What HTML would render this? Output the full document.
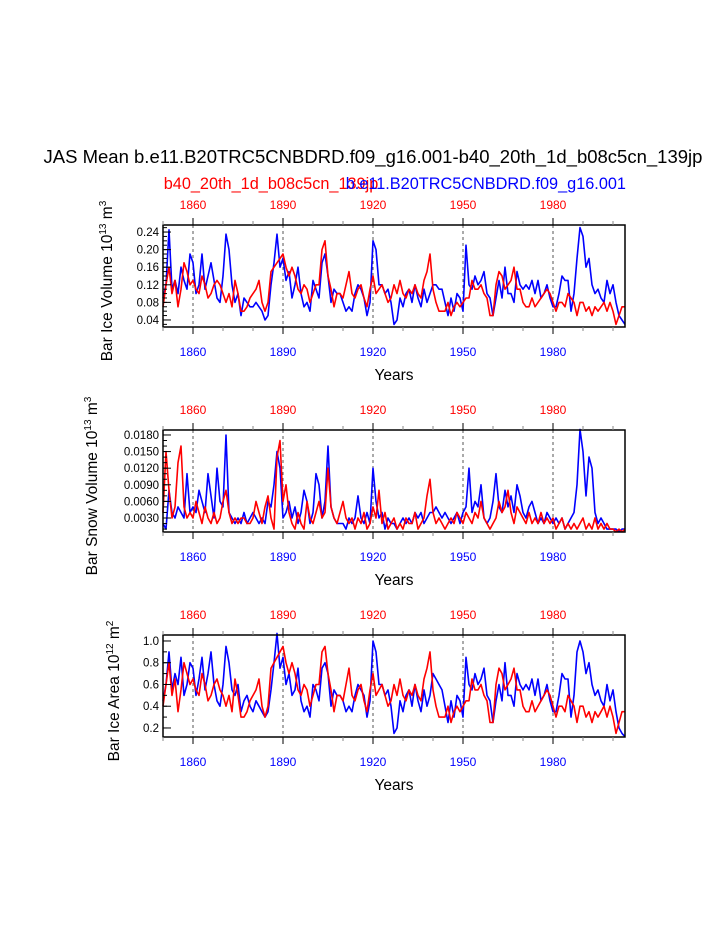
<!DOCTYPE html>
<html><head><meta charset="utf-8"><style>
html,body{margin:0;padding:0;background:#fff;}
svg{display:block;font-family:"Liberation Sans",sans-serif;}
</style></head><body>
<svg id="c" width="723" height="935">
<text x="373" y="163" text-anchor="middle" font-size="18.5">JAS Mean b.e11.B20TRC5CNBDRD.f09_g16.001-b40_20th_1d_b08c5cn_139jp</text>
<text x="271" y="189" text-anchor="middle" font-size="16.3" fill="#f00">b40_20th_1d_b08c5cn_139jp</text>
<text x="626" y="189" text-anchor="end" font-size="16.3" fill="#00f">b.e11.B20TRC5CNBDRD.f09_g16.001</text>
</svg>
<script>
const years=[];for(let y=1850;y<=2004;y++)years.push(y);
const xTicks=[1860,1890,1920,1950,1980];
const ice_blue=[.09,.12,.245,.11,.13,.10,.16,.13,.11,.19,.17,.10,.12,.19,.11,.14,.17,.13,.09,.08,.14,.235,.20,.12,.08,.10,.05,.09,.08,.07,.07,.08,.07,.06,.04,.05,.12,.17,.235,.16,.18,.13,.15,.09,.12,.16,.10,.07,.08,.06,.13,.11,.09,.17,.19,.14,.08,.11,.10,.10,.08,.06,.07,.06,.10,.12,.11,.09,.05,.08,.22,.20,.12,.12,.10,.11,.08,.03,.04,.09,.07,.10,.11,.08,.12,.09,.07,.11,.08,.10,.12,.12,.11,.11,.08,.05,.09,.06,.10,.09,.06,.21,.12,.11,.14,.12,.13,.15,.10,.09,.05,.09,.13,.09,.16,.10,.10,.08,.15,.12,.11,.12,.11,.13,.10,.13,.09,.10,.12,.09,.07,.07,.10,.14,.13,.13,.06,.10,.18,.25,.23,.16,.18,.12,.10,.11,.09,.08,.13,.10,.12,.08,.05,.04,.03];
const ice_red=[.07,.12,.16,.10,.13,.07,.11,.17,.15,.12,.13,.11,.10,.14,.12,.09,.10,.12,.13,.12,.10,.08,.10,.07,.13,.10,.06,.06,.07,.09,.10,.11,.13,.08,.06,.08,.15,.16,.17,.18,.19,.16,.14,.16,.14,.11,.10,.12,.11,.08,.10,.12,.12,.20,.22,.14,.11,.07,.10,.10,.09,.12,.15,.10,.09,.11,.12,.09,.07,.11,.14,.10,.11,.12,.10,.08,.09,.12,.10,.13,.10,.09,.11,.10,.12,.10,.09,.13,.15,.19,.11,.08,.06,.06,.06,.08,.05,.07,.08,.07,.08,.09,.09,.13,.11,.11,.12,.10,.09,.05,.05,.12,.15,.14,.11,.12,.13,.16,.11,.11,.08,.07,.07,.09,.07,.08,.09,.10,.11,.10,.08,.06,.08,.08,.07,.10,.09,.08,.05,.08,.08,.06,.07,.05,.07,.06,.07,.08,.06,.08,.06,.03,.05,.07,.07];
const snow_blue=[.002,.001,.008,.004,.003,.005,.004,.003,.011,.004,.005,.004,.008,.006,.004,.011,.007,.003,.012,.006,.005,.018,.004,.003,.002,.003,.002,.004,.002,.003,.004,.003,.002,.003,.002,.006,.005,.009,.015,.012,.003,.004,.006,.003,.005,.002,.004,.008,.006,.002,.004,.011,.009,.003,.006,.016,.005,.003,.002,.002,.002,.001,.003,.002,.003,.007,.003,.002,.004,.002,.012,.006,.003,.004,.001,.003,.002,.002,.001,.002,.003,.002,.003,.002,.004,.003,.004,.002,.003,.004,.004,.005,.004,.003,.004,.003,.002,.003,.004,.002,.004,.005,.012,.004,.006,.005,.009,.003,.002,.003,.006,.011,.005,.004,.008,.005,.007,.004,.009,.007,.004,.003,.005,.006,.004,.002,.003,.002,.004,.003,.002,.003,.002,.003,.001,.002,.003,.004,.009,.019,.015,.007,.014,.012,.004,.002,.003,.002,.001,.001,.001,.001,.0005,.001,.001];
const snow_red=[.004,.015,.008,.003,.005,.013,.016,.005,.003,.004,.003,.006,.004,.002,.005,.003,.002,.004,.002,.003,.006,.008,.004,.002,.003,.002,.003,.003,.002,.002,.003,.006,.004,.002,.005,.007,.003,.001,.014,.017,.006,.009,.004,.002,.001,.004,.002,.001,.006,.003,.002,.004,.006,.003,.004,.012,.005,.003,.002,.004,.006,.003,.002,.003,.001,.003,.002,.004,.001,.002,.005,.003,.008,.002,.004,.001,.002,.003,.001,.002,.001,.003,.002,.002,.004,.001,.002,.003,.007,.010,.004,.002,.003,.002,.001,.002,.003,.002,.004,.003,.002,.004,.003,.002,.004,.003,.006,.003,.002,.001,.002,.003,.006,.004,.005,.008,.004,.002,.005,.004,.003,.002,.004,.002,.003,.002,.004,.002,.003,.002,.003,.001,.002,.003,.001,.002,.001,.002,.001,.002,.003,.001,.002,.001,.003,.001,.002,.001,.002,.001,.001,.0005,.001,.0005,.001];
const area_blue=[.45,.6,.9,.55,.7,.6,.85,.5,.6,.8,.75,.5,.65,.85,.55,.7,.9,.6,.45,.4,.6,.95,.8,.55,.5,.6,.35,.45,.5,.4,.35,.45,.4,.35,.3,.35,.55,.8,1.07,.75,.85,.6,.7,.5,.55,.75,.45,.35,.4,.3,.6,.55,.45,.75,.8,.7,.4,.55,.5,.5,.45,.35,.4,.35,.5,.6,.55,.5,.3,.45,1.0,.9,.6,.6,.5,.55,.4,.15,.2,.45,.35,.5,.55,.4,.6,.45,.35,.55,.4,.5,.7,.65,.6,.55,.4,.25,.45,.3,.5,.45,.3,.85,.6,.55,.7,.6,.65,.75,.5,.45,.25,.45,.6,.45,.8,.5,.5,.4,.7,.6,.55,.6,.55,.65,.5,.65,.45,.5,.6,.45,.35,.35,.5,.7,.65,.65,.3,.5,.9,1.0,.9,.7,.8,.6,.5,.55,.45,.4,.6,.45,.55,.35,.2,.15,.12];
const area_red=[.4,.6,.8,.5,.65,.35,.55,.8,.7,.6,.65,.55,.5,.7,.6,.45,.5,.6,.65,.55,.5,.4,.5,.35,.65,.5,.3,.3,.35,.45,.5,.55,.65,.4,.3,.4,.75,.8,.85,.9,.95,.8,.7,.8,.7,.55,.5,.6,.55,.4,.5,.6,.6,.9,.95,.7,.55,.35,.5,.5,.45,.6,.75,.5,.45,.55,.6,.45,.35,.55,.7,.5,.55,.6,.5,.4,.45,.6,.5,.65,.5,.45,.55,.5,.6,.5,.45,.65,.75,.9,.55,.4,.3,.3,.3,.4,.25,.35,.4,.35,.4,.45,.45,.65,.55,.55,.6,.5,.45,.25,.25,.6,.75,.7,.55,.6,.65,.75,.55,.55,.4,.35,.35,.45,.35,.4,.45,.5,.55,.5,.4,.3,.4,.4,.35,.5,.45,.4,.25,.4,.4,.3,.35,.25,.35,.3,.35,.4,.3,.4,.3,.15,.25,.35,.35];
const iceTicks=[0.04,0.08,0.12,0.16,0.20,0.24];
const snowTicks=[0.003,0.006,0.009,0.012,0.015,0.018];
const areaTicks=[0.2,0.4,0.6,0.8,1.0];

const NS='http://www.w3.org/2000/svg';
const svg=document.getElementById('c');
function mk(t,a,p){const e=document.createElementNS(NS,t);for(const k in a)e.setAttribute(k,a[k]);(p||svg).appendChild(e);return e;}
const X0=163,X1=625,Y0=1850,Y1=2004;
const sx=y=>X0+(y-Y0)/(Y1-Y0)*(X1-X0);
const panels=[
 {top:225,bot:327,vmin:0.024,vmax:0.256,ticks:iceTicks,dec:2,minor:0.01,blue:ice_blue,red:ice_red,name:'ice-volume',title:'Bar Ice Volume 10',sup:'13',unit:' m',usup:'3',tx:112},
 {top:430,bot:532,vmin:0.00047,vmax:0.0189,ticks:snowTicks,dec:4,minor:0.001,blue:snow_blue,red:snow_red,name:'snow-volume',title:'Bar Snow Volume 10',sup:'13',unit:' m',usup:'3',tx:97},
 {top:635,bot:737,vmin:0.117,vmax:1.055,ticks:areaTicks,dec:1,minor:0.1,blue:area_blue,red:area_red,name:'ice-area',title:'Bar Ice Area 10',sup:'12',unit:' m',usup:'2',tx:119}
];
panels.forEach(p=>{
 const g=mk('g',{});
 
 
 const sy=v=>p.bot-(v-p.vmin)/(p.vmax-p.vmin)*(p.bot-p.top);
 xTicks.forEach(t=>{const l=mk('line',{x1:sx(t),x2:sx(t),y1:p.top,y2:p.bot,stroke:'#555','stroke-width':1,'stroke-dasharray':'3,3'},g);
  });
 [['blue','#00f'],['red','#f00']].forEach(([k,c])=>{
  const d=p[k].map((v,i)=>(i?'L':'M')+sx(years[i]).toFixed(1)+','+sy(v).toFixed(1)).join('');
  const pa=mk('path',{d:d,fill:'none',stroke:c,'stroke-width':1.6,'stroke-linejoin':'round'},g);
  
 });
 const fr=mk('rect',{x:X0,y:p.top,width:X1-X0,height:p.bot-p.top,fill:'none',stroke:'#000','stroke-width':1.5},g);
 
 for(let y=1850;y<=2000;y+=10){const maj=xTicks.includes(y);const L=maj?7:4;
  mk('line',{x1:sx(y),x2:sx(y),y1:p.top,y2:p.top-L,stroke:maj?'#000':'#888','stroke-width':1},g);
  mk('line',{x1:sx(y),x2:sx(y),y1:p.bot,y2:p.bot+L,stroke:maj?'#000':'#888','stroke-width':1},g);}
 xTicks.forEach(t=>{
  const a=mk('text',{x:sx(t),y:p.top-16,'text-anchor':'middle','font-size':12,fill:'#f00'},g);a.textContent=t;
  
  const b=mk('text',{x:sx(t),y:p.bot+29,'text-anchor':'middle','font-size':12,fill:'#00f'},g);b.textContent=t;
  
 });
 for(let v=p.minor*Math.ceil(p.vmin/p.minor);v<=p.vmax;v+=p.minor){
  mk('line',{x1:X0,x2:X0+4,y1:sy(v),y2:sy(v),stroke:'#000','stroke-width':1},g);}
 p.ticks.forEach(t=>{
  mk('line',{x1:X0,x2:X0+8,y1:sy(t),y2:sy(t),stroke:'#000','stroke-width':1},g);
  const tl=mk('text',{x:X0-4,y:sy(t)+4,'text-anchor':'end','font-size':11.5},g);tl.textContent=t.toFixed(p.dec);
  
 });
 const xt=mk('text',{x:(X0+X1)/2,y:p.bot+53,'text-anchor':'middle','font-size':15.5},g);xt.textContent='Years';
 
 const cy=(p.top+p.bot)/2+5;
 const yt=mk('text',{x:p.tx,y:cy,'text-anchor':'middle','font-size':15.5,transform:`rotate(-90 ${p.tx} ${cy})`},g);
 
 const s1=mk('tspan',{},yt);s1.textContent=p.title;
 const s2=mk('tspan',{'font-size':10,dy:-6},yt);s2.textContent=p.sup;
 const s3=mk('tspan',{dy:6},yt);s3.textContent=p.unit;
 const s4=mk('tspan',{'font-size':10,dy:-6},yt);s4.textContent=p.usup;
});
</script>
</body></html>
